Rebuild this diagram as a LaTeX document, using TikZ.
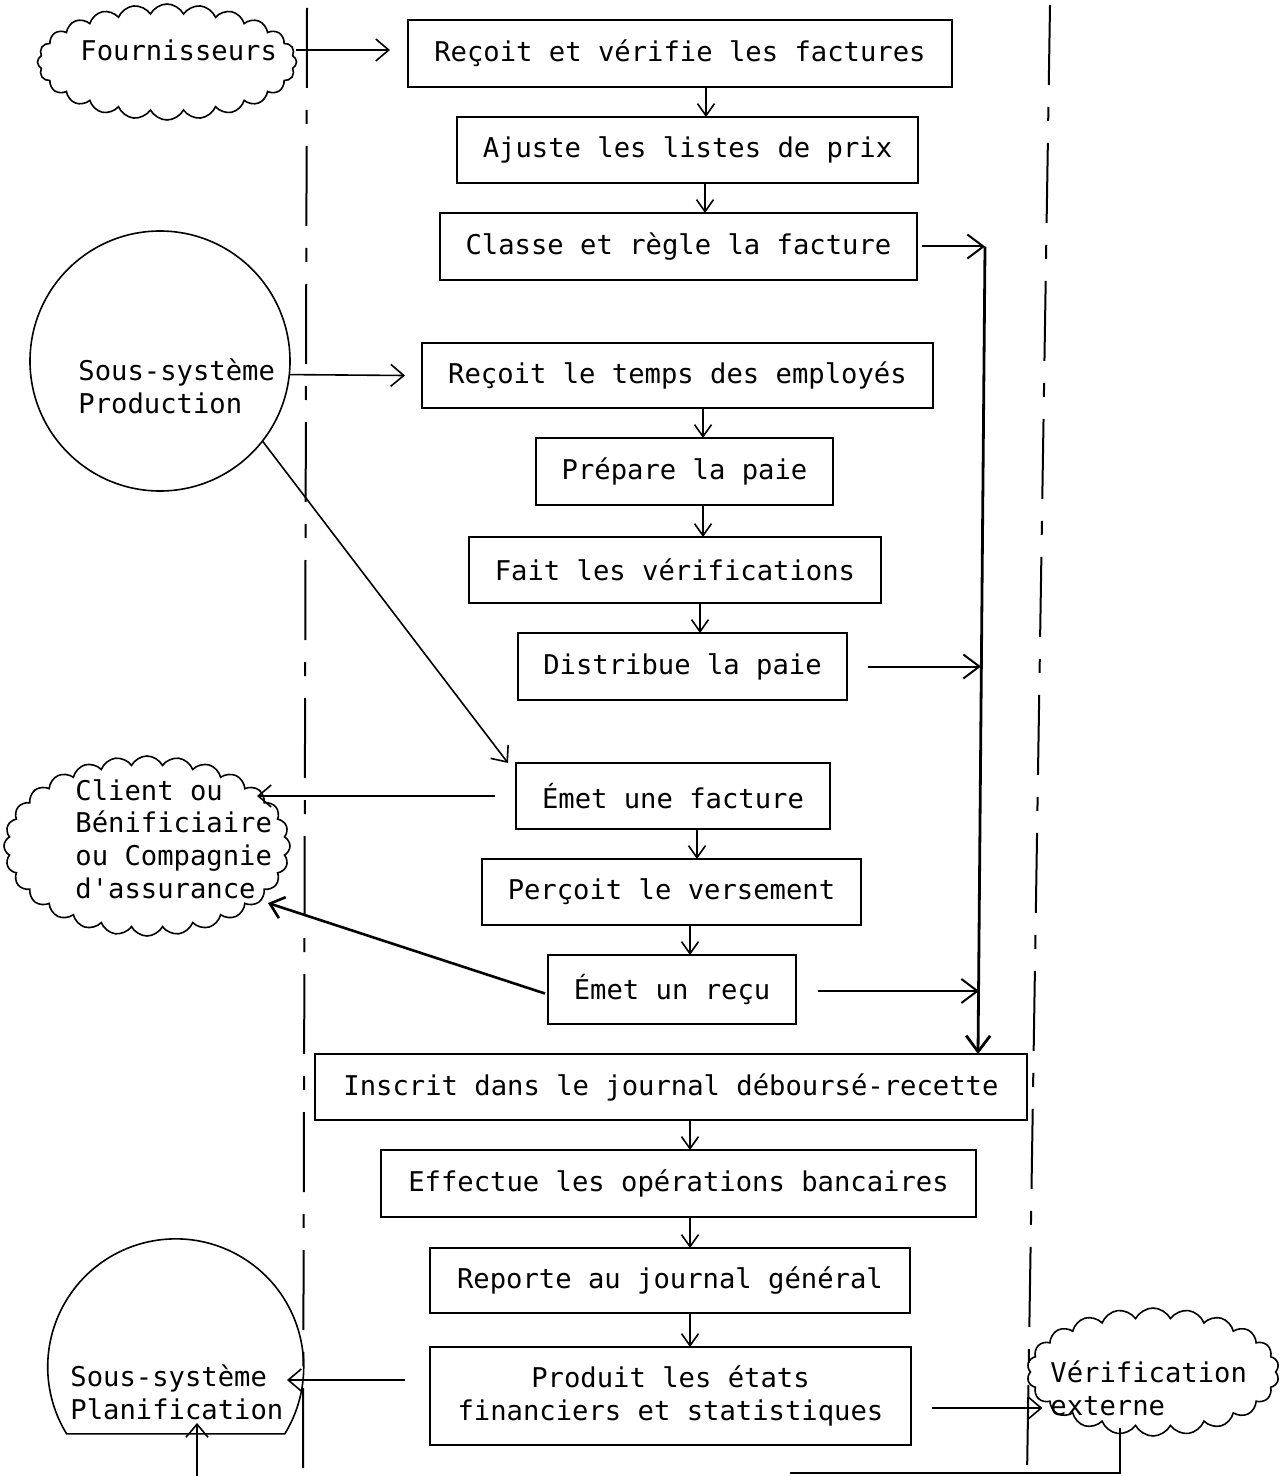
\documentclass[tikz,border=0pt]{standalone}
\usepackage{fontspec}
\setmainfont{DejaVu Sans Mono}
\usetikzlibrary{arrows.meta,shapes.symbols,calc}

\begin{document}
\begin{tikzpicture}[x=0.5pt,y=-0.5pt,
  font=\fontsize{13.6}{16.4}\selectfont,
  box/.style={draw, line width=1.2pt, rectangle, inner sep=0pt, outer sep=0pt, align=center},
  flow/.style={line width=0.8pt, -{Straight Barb[length=6pt,width=8.5pt]}},
  arr/.style={line width=0.8pt, -{Straight Barb[length=6.5pt,width=11pt]}},
  bigarr/.style={line width=1pt, -{Straight Barb[length=8pt,width=12pt]}},
  lane/.style={line width=1pt, dash pattern=on 40pt off 11pt on 7pt off 11pt},
  cloudy/.style={draw, cloud, cloud puff arc=125, cloud ignores aspect, line width=0.8pt, inner sep=0pt, outer sep=0pt},
  lbl/.style={anchor=west, align=left, inner sep=0pt},
  ring/.style={circle, inner sep=0pt, outer sep=0pt, line width=0.8pt}
]
\useasboundingbox (0,0) rectangle (1279,1476);

% swim-lane separators
\draw[lane] (307,8) -- (303,1476);
\draw[lane] (1050,5) -- (1027,1476);

% process steps
\node[box, minimum width=272pt,   minimum height=33.5pt] (b1)  at (680,53.5)   {Reçoit et vérifie les factures};
\node[box, minimum width=230.5pt, minimum height=33pt]   (b2)  at (687.5,150)  {Ajuste les listes de prix};
\node[box, minimum width=238.5pt, minimum height=33.5pt] (b3)  at (678.5,246.5) {Classe et règle la facture};
\node[box, minimum width=255.5pt, minimum height=32.5pt] (b4)  at (677.5,375.5) {Reçoit le temps des employés};
\node[box, minimum width=148.5pt, minimum height=33.5pt] (b5)  at (684.5,471.5) {Prépare la paie};
\node[box, minimum width=206pt,   minimum height=33pt]   (b6)  at (675,570)    {Fait les vérifications};
\node[box, minimum width=164.5pt, minimum height=33.5pt] (b7)  at (682.5,666.5) {Distribue la paie};
\node[box, minimum width=157pt,   minimum height=33pt]   (b8)  at (673,796)    {Émet une facture};
\node[box, minimum width=189.5pt, minimum height=33pt]   (b9)  at (671.5,892)  {Perçoit le versement};
\node[box, minimum width=124pt,   minimum height=34.5pt] (b10) at (672,989.5)  {Émet un reçu};
\node[box, minimum width=356pt,   minimum height=33pt]   (b11) at (671,1087)   {Inscrit dans le journal déboursé-recette};
\node[box, minimum width=297.5pt, minimum height=33.5pt] (b12) at (678.5,1183.5) {Effectue les opérations bancaires};
\node[box, minimum width=240pt,   minimum height=32.5pt] (b13) at (670,1280.5) {Reporte au journal général};
\node[box, minimum width=240.5pt, minimum height=49pt]   (b14) at (670.5,1396) {Produit les états\\financiers et statistiques};

% sequence arrows
\draw[flow] (b1.south -| 706,0)  -- (b2.north -| 706,0);
\draw[flow] (b2.south -| 705,0)  -- (b3.north -| 705,0);
\draw[flow] (b4.south -| 703,0)  -- (b5.north -| 703,0);
\draw[flow] (b5.south -| 703,0)  -- (b6.north -| 703,0);
\draw[flow] (b6.south -| 700,0)  -- (b7.north -| 700,0);
\draw[flow] (b8.south -| 697,0)  -- (b9.north -| 697,0);
\draw[flow] (b9.south -| 690,0)  -- (b10.north -| 690,0);
\draw[flow] (b11.south -| 690,0) -- (b12.north -| 690,0);
\draw[flow] (b12.south -| 690,0) -- (b13.north -| 690,0);
\draw[flow] (b13.south -| 690,0) -- (b14.north -| 690,0);

% collector towards the journal
\coordinate (coltop) at (985,246.5);
\draw[bigarr] ($(b3.east)+(5,0)$) -- (coltop);
\draw[bigarr, line width=1.4pt] (coltop) -- (b11.north -| 978,0);
\draw[bigarr] ($(b7.east)+(21,0)$) -- (b7.east -| 981,0);
\draw[bigarr] ($(b10.east)+(22,1.5)$) -- ($(b10.east -| 979,0)+(0,1.5)$);

% suppliers
\node[cloudy, cloud puffs=24, minimum width=129.5pt, minimum height=58pt] (fourn) at (167,62) {};
\node[lbl] (fourn-t) at (80,50) {Fournisseurs};
\draw[arr] (fourn-t.east -| fourn.east) -- ($(b1.west |- fourn-t)+(-18,0)$);

% production sub-system
\node[ring, draw, minimum size=130pt] (prod) at (160,361) {};
\node[lbl] (prod-t) at (78,386) {Sous-système\\Production};
\draw[arr] (prod.-6) -- ($(b4.west)+(-17,0)$);
\draw[arr] (prod.-38) -- ($(b8.north west)+(-8,0)$);

% clients
\node[cloudy, cloud puffs=28, minimum width=143pt, minimum height=90pt] (client) at (147,846) {};
\node[lbl] (client-t) at (75,839) {Client ou\\Bénificiaire\\ou Compagnie\\d\textquotesingle assurance};
\draw[arr] ($(b8.west)+(-21,0)$) -- ($(client.east |- b8.west)+(-33,0)$);
\draw[arr, line width=1.3pt] ($(b10.west)+(-3,4)$) -- ($(client.center)+(121,57)$);

% planning sub-system
\node[ring, minimum size=128pt] (plan) at (175,1368) {};
\draw[line width=0.8pt] (plan.-31.6) arc[start angle=-31.6, end angle=211.6, radius=64pt] -- cycle;
\node[lbl] (plan-t) at (70,1392) {Sous-système\\Planification};
\draw[arr] ($(b14.west)+(-25,-16)$) -- ($(plan.east)+(-16,12)$);
\coordinate (upfoot) at (197,1476);
\coordinate (uptip) at (197,1423);
\draw[arr] (upfoot) -- (uptip);

% external audit
\node[cloudy, cloud puffs=22, minimum width=126pt, minimum height=64pt] (verif) at (1153,1372) {};
\node[lbl] (verif-t) at (1050,1388) {Vérification\\externe};
\draw[arr] ($(b14.east)+(21,12)$) -- ($(verif.west)+(12,36)$);
\coordinate (ret) at (790,1473);
\draw[line width=0.8pt] ($(verif.south)+(-33,-8)$) |- (ret);
\end{tikzpicture}
\end{document}
